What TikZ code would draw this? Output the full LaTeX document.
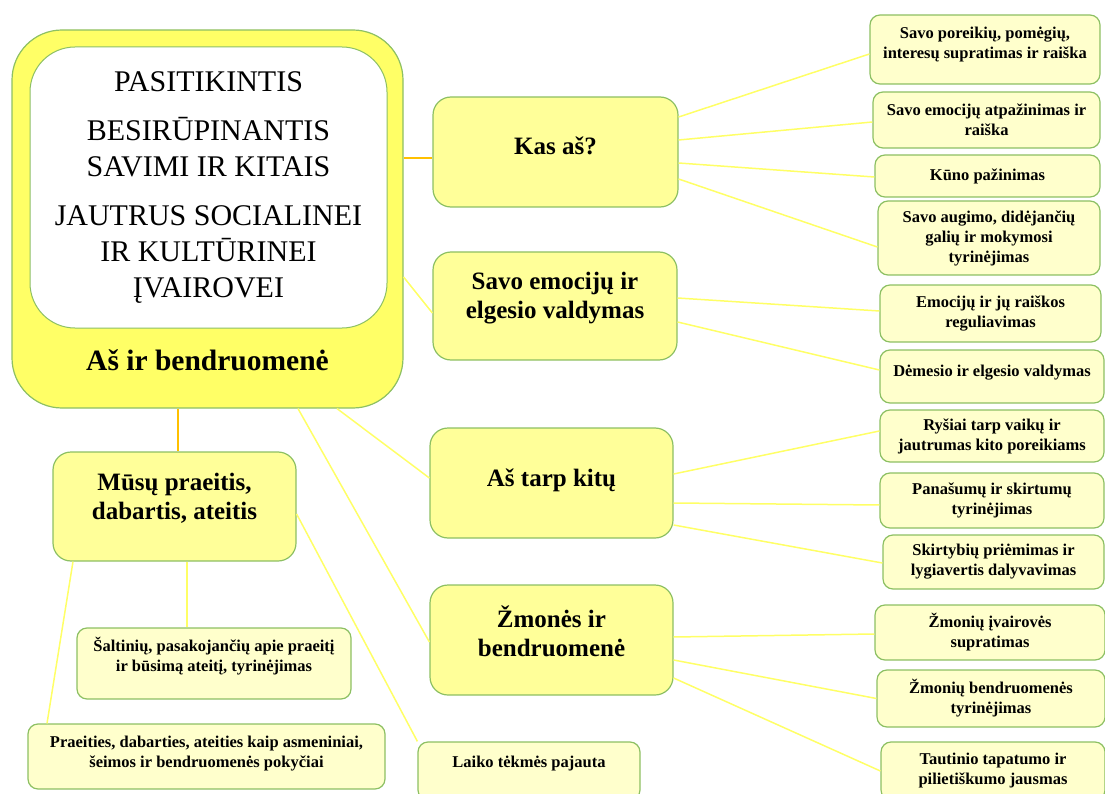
\documentclass[tikz,border=0pt]{standalone}
\usepackage{fontspec}
\setmainfont{Liberation Serif}
\definecolor{boxline}{HTML}{8DC063}
\definecolor{rootfill}{HTML}{FFFF66}
\definecolor{mainfill}{HTML}{FFFF99}
\definecolor{leaffill}{HTML}{FFFFCC}
\definecolor{linkyellow}{HTML}{FFFF66}
\definecolor{linkorange}{HTML}{FFC000}
\newcommand{\liftup}[2]{\raisebox{#1}[\height][\depth]{\begin{tabular}{@{}c@{}}#2\end{tabular}}}

\begin{document}
\begin{tikzpicture}[x=1pt,y=-1pt,
  rootbox/.style={draw=boxline,line width=1.2pt,fill=rootfill,rounded corners=50pt,inner sep=0pt},
  traitbox/.style={draw=boxline,line width=1pt,fill=white,rounded corners=45pt,inner sep=0pt,align=center,font=\fontsize{30}{36}\selectfont},
  mainbox/.style={draw=boxline,line width=1.2pt,fill=mainfill,rounded corners=18pt,inner sep=0pt,align=center,font=\fontsize{25}{29}\selectfont\bfseries},
  leafbox/.style={draw=boxline,line width=1.2pt,fill=leaffill,rounded corners=10pt,inner sep=0pt,align=center,font=\fontsize{16.5}{20}\selectfont\bfseries},
  link/.style={draw=linkyellow,line width=1.5pt},
  mainlink/.style={draw=linkorange,line width=2pt}]
\useasboundingbox (0,0) rectangle (1105,794);
% big box with the traits
\node[rootbox,minimum width=391pt,minimum height=378pt] (root) at (207.5,219) {};
\node[traitbox,minimum width=357pt,minimum height=281pt] (traits) at (208.5,187.5) {PASITIKINTIS\\[13pt]
BESIRŪPINANTIS\\SAVIMI IR KITAIS\\[13pt]
JAUTRUS SOCIALINEI\\IR KULTŪRINEI\\ĮVAIROVEI};
\node[font=\fontsize{29.5}{34}\selectfont\bfseries] (title) at (207.5,360) {Aš ir bendruomenė};
% main topics
\node[mainbox,minimum width=245pt,minimum height=110pt] (kas) at (555.5,152) {\liftup{3pt}{Kas aš?}};
\node[mainbox,minimum width=244pt,minimum height=108pt] (emo) at (555,306) {\liftup{8pt}{Savo emocijų ir\\elgesio valdymas}};
\node[mainbox,minimum width=243pt,minimum height=110pt] (kitu) at (551.5,483) {\liftup{2pt}{Aš tarp kitų}};
\node[mainbox,minimum width=243pt,minimum height=110pt] (zmon) at (551.5,640) {\liftup{5pt}{Žmonės ir\\bendruomenė}};
\node[mainbox,minimum width=243pt,minimum height=109pt] (mus) at (174.5,506.5) {\liftup{7pt}{Mūsų praeitis,\\dabartis, ateitis}};
% left bottom leaves
\node[leafbox,minimum width=274pt,minimum height=71pt] (salt) at (214,663.5) {\liftup{6pt}{Šaltinių, pasakojančių apie praeitį\\ir būsimą ateitį, tyrinėjimas}};
\node[leafbox,minimum width=357pt,minimum height=65pt] (praeit) at (206.5,756.5) {\liftup{3pt}{Praeities, dabarties, ateities kaip asmeniniai,\\šeimos ir bendruomenės pokyčiai}};
\node[leafbox,minimum width=222pt,minimum height=58pt] (laiko) at (529,771) {\liftup{8pt}{Laiko tėkmės pajauta}};
% right leaves
\node[leafbox,minimum width=230pt,minimum height=69pt] (l1) at (985,49.5) {\liftup{5pt}{Savo poreikių, pomėgių,\\interesų supratimas ir raiška}};
\node[leafbox,minimum width=227pt,minimum height=56pt] (l2) at (986.5,120) {Savo emocijų atpažinimas ir\\raiška};
\node[leafbox,minimum width=225pt,minimum height=42pt] (l3) at (987.5,176) {Kūno pažinimas};
\node[leafbox,minimum width=222pt,minimum height=74pt] (l4) at (989,238) {Savo augimo, didėjančių\\galių ir mokymosi\\tyrinėjimas};
\node[leafbox,minimum width=221pt,minimum height=57pt] (l5) at (990.5,313.5) {Emocijų ir jų raiškos\\reguliavimas};
\node[leafbox,minimum width=224pt,minimum height=53pt] (l6) at (992,376.5) {\liftup{4pt}{Dėmesio ir elgesio valdymas}};
\node[leafbox,minimum width=224pt,minimum height=52pt] (l7) at (992,436) {Ryšiai tarp vaikų ir\\jautrumas kito poreikiams};
\node[leafbox,minimum width=224pt,minimum height=55pt] (l8) at (992,500.5) {Panašumų ir skirtumų\\tyrinėjimas};
\node[leafbox,minimum width=221pt,minimum height=54pt] (l9) at (993.5,562) {Skirtybių priėmimas ir\\lygiavertis dalyvavimas};
\node[leafbox,minimum width=230pt,minimum height=55pt] (l10) at (990,632.5) {Žmonių įvairovės\\supratimas};
\node[leafbox,minimum width=228pt,minimum height=57pt] (l11) at (991,698.5) {Žmonių bendruomenės\\tyrinėjimas};
\node[leafbox,minimum width=224pt,minimum height=58pt] (l12) at (993,771) {Tautinio tapatumo ir\\pilietiškumo jausmas};
% links from the big box
\draw[mainlink] ([yshift=61pt]root.east) -- ([yshift=-6pt]kas.west);
\draw[mainlink] ([xshift=-30pt]root.south) -- ([xshift=3pt]mus.north);
\draw[link] ([yshift=-58pt]root.east) -- ([yshift=-7pt]emo.west);
\draw[link] ([xshift=129.5pt]root.south) -- ([yshift=5pt]kitu.west);
\draw[link] ([xshift=90.5pt]root.south) -- ([yshift=-2pt]zmon.west);
% links to the leaves
\draw[link] ([yshift=-7.5pt]mus.east) -- (laiko.north west);
\draw[link] ([xshift=12.5pt]mus.south) -- ([xshift=-27pt]salt.north);
\draw[link] ([xshift=-101.5pt]mus.south) -- ([xshift=-159.5pt]praeit.north);
\draw[link] ([yshift=35pt]kas.east) -- ([yshift=-4.5pt]l1.west);
\draw[link] ([yshift=12pt]kas.east) -- ([yshift=-2pt]l2.west);
\draw[link] ([yshift=-11pt]kas.east) -- ([yshift=-1pt]l3.west);
\draw[link] ([yshift=-27pt]kas.east) -- ([yshift=-9pt]l4.west);
\draw[link] ([yshift=8pt]emo.east) -- ([yshift=2.5pt]l5.west);
\draw[link] ([yshift=-16pt]emo.east) -- ([yshift=6.5pt]l6.west);
\draw[link] ([yshift=9pt]kitu.east) -- ([yshift=5pt]l7.west);
\draw[link] ([yshift=-20pt]kitu.east) -- ([yshift=-4.5pt]l8.west);
\draw[link] ([yshift=-42pt]kitu.east) -- ([yshift=-1pt]l9.west);
\draw[link] ([yshift=3pt]zmon.east) -- ([yshift=-1.5pt]l10.west);
\draw[link] ([yshift=-20pt]zmon.east) -- (l11.west);
\draw[link] ([yshift=-38pt]zmon.east) -- (l12.west);
\end{tikzpicture}
\end{document}
